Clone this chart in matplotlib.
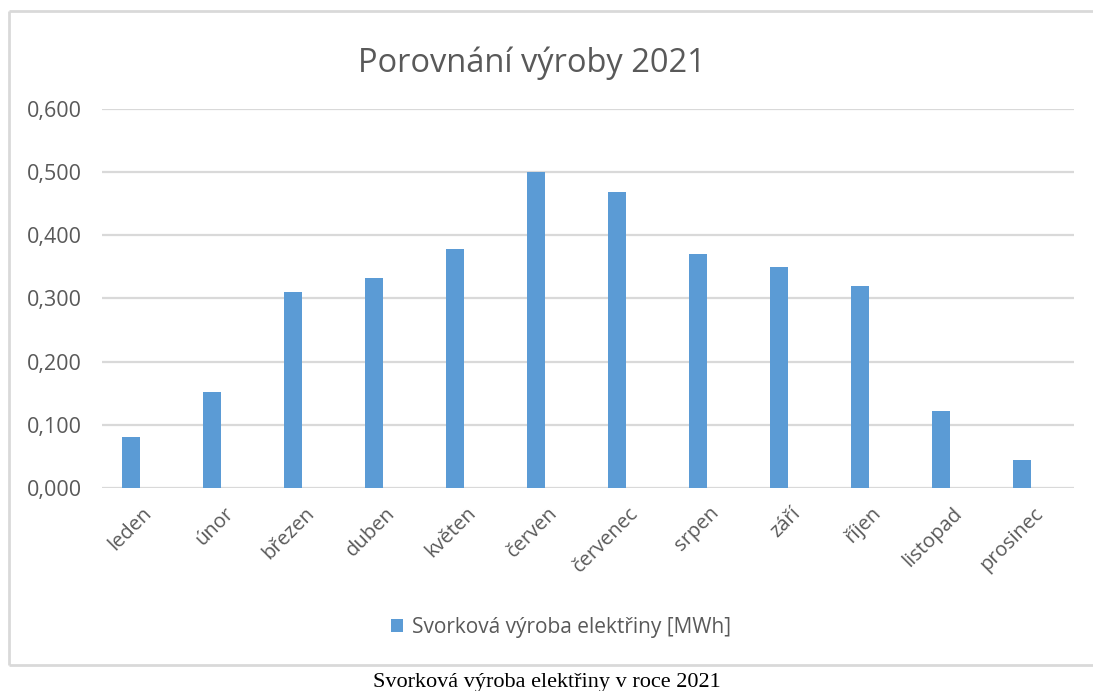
import matplotlib.pyplot as plt
from matplotlib.lines import Line2D

months = ["leden", "únor", "březen", "duben", "květen", "červen",
          "červenec", "srpen", "září", "říjen", "listopad", "prosinec"]
production = [0.080, 0.152, 0.310, 0.333, 0.378, 0.500,
              0.469, 0.370, 0.350, 0.319, 0.122, 0.044]
yticks = [0.0, 0.1, 0.2, 0.3, 0.4, 0.5, 0.6]
title = "Porovnání výroby 2021"
series_name = "Svorková výroba elektřiny [MWh]"
caption = "Svorková výroba elektřiny v roce 2021"

plt.rcParams['font.family'] = ['Open Sans', 'DejaVu Sans']
text_col = "#595959"
grid_col = "#D9D9D9"
bar_col = "#5B9BD5"

fig = plt.figure(figsize=(10.93, 6.91), dpi=100)

# chart frame: left, top, bottom (right edge runs off the picture)
fl, fr = 8.5 / 1093, 1.05
ft, fb = 1 - 10.5 / 691, 1 - 664.5 / 691
for xs, ys in [([fl, fl], [fb, ft]), ([fl, fr], [ft, ft]), ([fl, fr], [fb, fb])]:
    fig.add_artist(Line2D(xs, ys, transform=fig.transFigure,
                          color="#D9D9D9", linewidth=2.0, solid_capstyle="butt"))

ax = fig.add_axes([0.093, 0.2938, 0.8897, 0.5485])
x = list(range(len(months)))
# bars sit a bit left of the category centre (as in the Excel original)
ax.bar([i - 0.14 for i in x], production, width=0.22, color=bar_col,
       label=series_name, zorder=3)
ax.set_xlim(-0.5, len(months) - 0.5)
ax.set_ylim(0, 0.6)
ax.set_yticks(yticks)
ax.set_yticklabels([f"{v:.3f}".replace(".", ",") for v in yticks])
ax.yaxis.grid(True, color=grid_col, linewidth=1.6, zorder=0)
ax.set_axisbelow(True)
for s in ax.spines.values():
    s.set_visible(False)
ax.tick_params(axis="both", length=0, colors=text_col, labelsize=14.5)
ax.tick_params(axis="y", pad=14, labelsize=15.5)
ax.set_xticks(x)
ax.set_xticklabels(months, rotation=45, ha="right", rotation_mode="anchor")
ax.tick_params(axis="x", pad=11)

fig.text(0.487, 0.909, title, ha="center", va="center", fontsize=23.5, color=text_col)

fig.legend(loc="center", bbox_to_anchor=(0.513, 0.092), frameon=False,
           fontsize=15, labelcolor=text_col, handlelength=0.6, handleheight=0.6,
           handletextpad=0.4)

fig.text(0.5, 0.012, caption, ha="center", va="center", fontsize=16,
         family="Liberation Serif", color="black")

fig.savefig("out.png", dpi=100)
